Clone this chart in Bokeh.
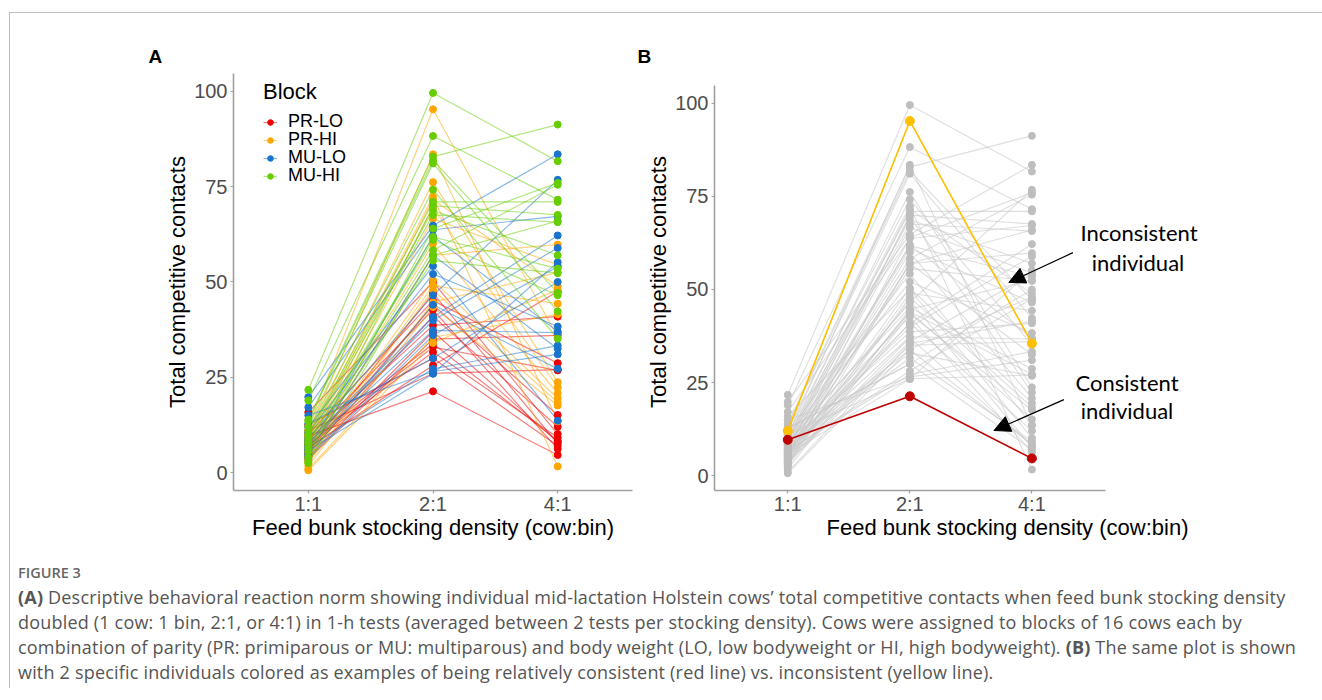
from bokeh.plotting import figure
from bokeh.models import Range1d, FixedTicker, Arrow, NormalHead, Legend, LegendItem, Div, Label, Title
from bokeh.layouts import row, column
from bokeh.embed import file_html
from bokeh.resources import INLINE

# ---------------- data ----------------
x_labels = ["1:1", "2:1", "4:1"]
blocks = ["PR-LO", "PR-HI", "MU-LO", "MU-HI"]
block_colors = ["#EE0000", "#FFA500", "#1874CD", "#66CD00"]

# total competitive contacts per cow (16 cows per block) at 1:1, 2:1, 4:1
pr_lo_11 = [9.6, 15.8, 10.1, 9.0, 8.5, 8.0, 7.4, 7.0, 6.6, 6.0, 5.4, 5.0, 4.2, 3.5, 12.5, 11.0]
pr_lo_21 = [21.3, 50.0, 45.1, 42.7, 38.6, 33.8, 32.9, 31.6, 28.1, 47.0, 44.0, 41.0, 37.0, 35.0, 30.0, 26.0]
pr_lo_41 = [4.6, 10.1, 28.7, 6.2, 40.9, 8.4, 26.8, 9.2, 47.5, 7.6, 15.1, 12.0, 8.0, 36.0, 7.0, 27.0]

pr_hi_11 = [12.0, 10.8, 9.9, 9.2, 8.2, 7.3, 6.8, 6.0, 5.2, 4.6, 3.8, 3.2, 2.6, 1.8, 1.0, 0.6]
pr_hi_21 = [95.3, 83.5, 76.2, 72.4, 71.6, 69.6, 66.6, 60.0, 57.0, 50.4, 49.0, 47.9, 44.7, 43.4, 35.5, 34.0]
pr_hi_41 = [35.5, 13.4, 23.7, 1.6, 48.9, 22.3, 54.5, 20.8, 59.8, 19.5, 44.3, 18.4, 52.5, 17.6, 41.5, 48.0]

mu_lo_11 = [19.8, 17.1, 11.9, 10.5, 9.0, 8.3, 7.7, 7.0, 6.5, 5.8, 5.0, 4.5, 3.8, 12.8, 15.0, 6.2]
mu_lo_21 = [64.8, 63.7, 54.2, 52.1, 46.5, 40.8, 39.9, 37.3, 27.2, 25.9, 57.0, 44.0, 36.0, 30.0, 26.5, 62.0]
mu_lo_41 = [83.5, 67.2, 13.6, 38.3, 76.8, 62.2, 58.9, 36.7, 33.3, 55.2, 32.5, 27.2, 54.0, 50.0, 31.0, 37.0]

mu_hi_11 = [21.7, 18.9, 13.9, 13.5, 12.0, 11.0, 10.0, 9.5, 8.7, 8.0, 7.5, 6.5, 5.5, 4.0, 3.0, 2.5]
mu_hi_21 = [99.6, 88.3, 82.9, 81.9, 81.1, 74.2, 71.0, 68.8, 67.6, 61.8, 61.0, 58.3, 55.6, 70.0, 64.0, 57.0]
mu_hi_41 = [81.7, 71.6, 91.3, 47.2, 42.3, 35.1, 71.0, 57.0, 65.7, 53.5, 46.5, 75.5, 52.3, 67.6, 76.0, 66.0]

block_data = [
    (pr_lo_11, pr_lo_21, pr_lo_41),
    (pr_hi_11, pr_hi_21, pr_hi_41),
    (mu_lo_11, mu_lo_21, mu_lo_41),
    (mu_hi_11, mu_hi_21, mu_hi_41),
]

consistent_cow = (0, 0)     # block index, cow index (red line)
inconsistent_cow = (1, 0)   # yellow line
consistent_color = "#C00000"
inconsistent_color = "#FFC000"

y_ticks = [0, 25, 50, 75, 100]
x_pos = [i + 1 for i in range(len(x_labels))]

FONT = "Liberation Sans"
HAS_STANDOFF = "standoff" in Title.properties()


def cow_series(b):
    d11, d21, d41 = block_data[b]
    xs, ys = [], []
    for a, c, e in zip(d11, d21, d41):
        xs.append(list(x_pos))
        ys.append([a, c, e])
    return xs, ys


def style_axes(p, title_x, title_y, panel_letter, letter_offset):
    p.xgrid.visible = False
    p.ygrid.visible = False
    p.outline_line_color = None
    p.background_fill_color = "white"
    p.border_fill_color = "white"
    p.xaxis.ticker = FixedTicker(ticks=x_pos)
    p.xaxis.major_label_overrides = {x: lab for x, lab in zip(x_pos, x_labels)}
    p.yaxis.ticker = FixedTicker(ticks=y_ticks)
    for ax in (p.xaxis[0], p.yaxis[0]):
        ax.axis_line_color = "#A0A0A0"
        ax.axis_line_width = 1.6
        ax.major_tick_line_color = "#A0A0A0"
        ax.major_tick_line_width = 1.2
        ax.major_tick_out = 3
        ax.major_tick_in = 0
        ax.minor_tick_line_color = None
        ax.major_label_text_font = FONT
        ax.major_label_text_font_size = "20px"
        ax.major_label_text_color = "#4D4D4D"
        ax.axis_label_text_font = FONT
        ax.axis_label_text_font_size = "22px"
        ax.axis_label_text_font_style = "normal"
        ax.axis_label_text_color = "black"
    p.xaxis.axis_label = title_x
    p.yaxis.axis_label = title_y
    p.xaxis.major_label_standoff = -1
    p.xaxis.axis_label_standoff = -3
    p.yaxis.major_label_standoff = 3
    p.yaxis.axis_label_standoff = 1
    p.title.text = panel_letter
    p.title.align = "left"
    p.title.offset = letter_offset
    p.title.text_font = FONT
    p.title.text_font_size = "19px"
    p.title.text_font_style = "bold"
    p.title.text_color = "black"
    if HAS_STANDOFF:
        p.title.standoff = 14


def style_legend(lg, with_title):
    if with_title:
        lg.title_text_font = FONT
        lg.title_text_font_size = "22px"
        lg.title_text_font_style = "normal"
        lg.title_text_color = "black"
        lg.title_standoff = 6
    lg.label_text_font = FONT
    lg.label_text_font_size = "18px"
    lg.label_text_color = "black"
    lg.label_height = 18
    lg.glyph_height = 18
    lg.glyph_width = 14
    lg.label_standoff = 11
    lg.spacing = 0
    lg.padding = 2
    lg.margin = 0
    lg.border_line_color = None
    lg.background_fill_alpha = 0


xt = "Feed bunk stocking density (cow:bin)"
yt = "Total competitive contacts"

# common vertical frame for both panels (rows align frames)
FIG_H = 537
MB_TOP = 60
MB_BOT = 60

# ---------------- panel A ----------------
pA = figure(width=626, height=FIG_H, x_range=Range1d(0.4, 3.6), y_range=Range1d(-4.72, 104.7),
            output_backend="svg", toolbar_location=None,
            min_border_left=223, min_border_right=4, min_border_top=MB_TOP, min_border_bottom=MB_BOT)
style_axes(pA, xt, yt, "A", -85)

line_rs, pt_rs = [], []
for b, col in enumerate(block_colors):
    xs, ys = cow_series(b)
    line_rs.append(pA.multi_line(xs, ys, line_color=col, line_alpha=0.5, line_width=1.2))
for b, col in enumerate(block_colors):
    xs, ys = cow_series(b)
    fx = [x for row_ in xs for x in row_]
    fy = [y for row_ in ys for y in row_]
    pt_rs.append(pA.scatter(fx, fy, size=7, fill_color=col, line_color=col))

# one legend box per block so the rows sit 18 px apart, as in the reference
legend_y = [358, 340, 322, 304]
for i, blk in enumerate(blocks):
    kw = {"title": "Block"} if i == 0 else {}
    lg = Legend(items=[LegendItem(label=blk, renderers=[line_rs[i], pt_rs[i]])],
                location=(30, legend_y[i]), **kw)
    style_legend(lg, i == 0)
    pA.add_layout(lg)

# ---------------- panel B ----------------
pB = figure(width=678, height=FIG_H, x_range=Range1d(0.4, 5.2), y_range=Range1d(-4.03, 108.06),
            output_backend="svg", toolbar_location=None,
            min_border_left=78, min_border_right=14, min_border_top=MB_TOP, min_border_bottom=MB_BOT)
style_axes(pB, xt, yt, "B", -77)
pB.xaxis.bounds = (0.4, 3.6)
pB.yaxis.bounds = (-4.03, 104.8)

all_xs, all_ys = [], []
for b in range(len(blocks)):
    xs, ys = cow_series(b)
    all_xs += xs
    all_ys += ys
pB.multi_line(all_xs, all_ys, line_color="#C8C8C8", line_alpha=0.6, line_width=1.1)
pB.scatter([x for r in all_xs for x in r], [y for r in all_ys for y in r], size=7,
           fill_color="#BEBEBE", line_color="#BEBEBE")

for (b, i), col in ((inconsistent_cow, inconsistent_color), (consistent_cow, consistent_color)):
    xs, ys = cow_series(b)
    pB.line(xs[i], ys[i], line_color=col, line_width=1.6)
    pB.scatter(xs[i], ys[i], size=9, fill_color=col, line_color=col)

ann_font = "Lato"
for txt, x, y in (("Inconsistent", 3.877, 65.3), ("individual", 3.869, 57.3),
                  ("Consistent", 3.779, 25.0), ("individual", 3.779, 17.5)):
    pB.add_layout(Label(x=x, y=y, text=txt, text_font=ann_font, text_font_size="22px",
                        text_align="center", text_baseline="middle", text_color="black"))

pB.add_layout(Arrow(x_start=3.336, y_start=59.9, x_end=2.811, y_end=51.9,
                    line_color="black", line_width=1.2,
                    end=NormalHead(size=16, fill_color="black", line_color="black")))
pB.add_layout(Arrow(x_start=3.262, y_start=20.4, x_end=2.689, y_end=12.1,
                    line_color="black", line_width=1.2,
                    end=NormalHead(size=16, fill_color="black", line_color="black")))

# ---------------- caption ----------------
cap_lines = [
    "<b>(A)</b> Descriptive behavioral reaction norm showing individual mid-lactation Holstein cows\u2019 total competitive contacts when feed bunk stocking density",
    "doubled (1 cow: 1 bin, 2:1, or 4:1) in 1-h tests (averaged between 2 tests per stocking density). Cows were assigned to blocks of 16 cows each by",
    "combination of parity (PR: primiparous or MU: multiparous) and body weight (LO, low bodyweight or HI, high bodyweight). <b>(B)</b> The same plot is shown",
    "with 2 specific individuals colored as examples of being relatively consistent (red line) vs. inconsistent (yellow line).",
]
cap_html = (
    '<div style="font-family:\'Open Sans\',sans-serif;white-space:nowrap;padding:5px 0 0 3px;">'
    '<div style="font-size:14.5px;line-height:25px;color:#666666;font-weight:600;">FIGURE 3</div>'
    '<div style="font-size:18px;letter-spacing:0.19px;line-height:25px;color:#555555;">'
    + "<br>".join(cap_lines) + '</div>'
    '</div>'
)
cap = Div(text=cap_html, width=1304, height=128)

layout = column(row(pA, pB), cap,
                styles={"margin-top": "12px", "margin-left": "9px",
                        "border-top": "1px solid #BDBDBD", "border-left": "1px solid #BDBDBD"})

open("out.html", "w").write(file_html(layout, INLINE))
